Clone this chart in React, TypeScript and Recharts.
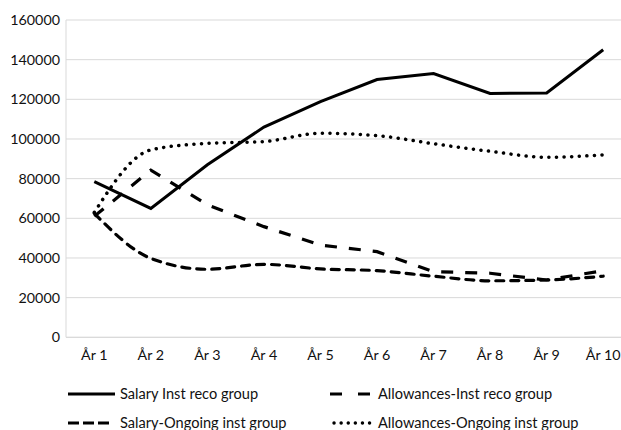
import React from "react";
import { LineChart, Line, XAxis, YAxis, CartesianGrid, Legend } from "recharts";

const categories = ["År 1", "År 2", "År 3", "År 4", "År 5", "År 6", "År 7", "År 8", "År 9", "År 10"];
const salaryInstReco = [78500, 65000, 87000, 106000, 118800, 130000, 133000, 123000, 123200, 145000];
const allowancesInstReco = [61000, 84300, 66800, 55800, 46500, 43200, 33100, 32300, 28900, 33600];
const salaryOngoing = [62500, 39800, 34300, 36800, 34500, 33600, 30800, 28500, 28900, 30800];
const allowancesOngoing = [63000, 94500, 97800, 98700, 102900, 101700, 97600, 93800, 90800, 92000];
const seriesNames = [
  "Salary Inst reco group",
  "Allowances-Inst reco group",
  "Salary-Ongoing inst group",
  "Allowances-Ongoing inst group",
];
const yTicks = [0, 20000, 40000, 60000, 80000, 100000, 120000, 140000, 160000];

const data = categories.map((c, i) => ({
  name: c,
  s1: salaryInstReco[i],
  s2: allowancesInstReco[i],
  s3: salaryOngoing[i],
  s4: allowancesOngoing[i],
}));

const FONT = "Lato, 'Open Sans', sans-serif";

const LegendContent = () => {
  const textStyle = { fontFamily: FONT, fontSize: 14.6, fill: "#111" } as React.CSSProperties;
  return (
    <svg width={621} height={50} style={{ display: "block" }}>
      <line x1={68} x2={115} y1={14} y2={14} stroke="#000" strokeWidth={3} />
      <text x={120} y={14} dy="0.35em" style={textStyle}>{seriesNames[0]}</text>
      <line x1={330} x2={370} y1={14} y2={14} stroke="#000" strokeWidth={3.2} strokeDasharray="12 16" />
      <text x={378} y={14} dy="0.35em" style={textStyle}>{seriesNames[1]}</text>
      <line x1={68} x2={111} y1={43} y2={43} stroke="#000" strokeWidth={3.2} strokeDasharray="11 4" />
      <text x={120} y={43} dy="0.35em" style={textStyle}>{seriesNames[2]}</text>
      <line x1={334} x2={372} y1={43} y2={43} stroke="#000" strokeWidth={3.4} strokeDasharray="0.1 7" strokeLinecap="round" />
      <text x={378} y={43} dy="0.35em" style={textStyle}>{seriesNames[3]}</text>
    </svg>
  );
};

export default function App() {
  return (
    <div style={{ position: "absolute", left: 0, top: 0, width: 621, height: 430, overflow: "hidden", background: "#fff" }}>
      <LineChart
        width={640}
        height={430}
        data={data}
        margin={{ top: 20, right: 8.5, left: 0, bottom: 62.7 }}
      >
        <CartesianGrid vertical={false} stroke="#d9d9d9" strokeWidth={1} />
        <XAxis
          dataKey="name"
          axisLine={{ stroke: "#d9d9d9", strokeWidth: 1 }}
          tickLine={false}
          tickSize={0}
          tickMargin={13}
          padding={{ left: 28.3, right: 28.3 }}
          interval={0}
          height={30}
          tick={{ fontFamily: FONT, fontSize: 14.3, fill: "#111" }}
        />
        <YAxis
          domain={[0, 160000]}
          ticks={yTicks}
          axisLine={{ stroke: "#d9d9d9", strokeWidth: 1 }}
          tickLine={false}
          tickSize={0}
          tickMargin={6}
          width={66}
          interval={0}
          tick={{ fontFamily: FONT, fontSize: 14.3, fill: "#111" }}
        />
        <Legend verticalAlign="middle" wrapperStyle={{ top: 380, left: 0, width: 621 }} content={<LegendContent />} />
        <Line
          dataKey="s1"
          name={seriesNames[0]}
          type="linear"
          stroke="#000"
          strokeWidth={3}
          dot={false}
          isAnimationActive={false}
        />
        <Line
          dataKey="s2"
          name={seriesNames[1]}
          type="linear"
          stroke="#000"
          strokeWidth={3.2}
          strokeDasharray="12 12"
          dot={false}
          isAnimationActive={false}
        />
        <Line
          dataKey="s3"
          name={seriesNames[2]}
          type="monotone"
          stroke="#000"
          strokeWidth={3.2}
          strokeDasharray="8 7"
          strokeLinecap="round"
          dot={false}
          isAnimationActive={false}
        />
        <Line
          dataKey="s4"
          name={seriesNames[3]}
          type="monotone"
          stroke="#000"
          strokeWidth={3.5}
          strokeDasharray="0.1 7.5"
          strokeLinecap="round"
          dot={false}
          isAnimationActive={false}
        />
      </LineChart>
    </div>
  );
}
